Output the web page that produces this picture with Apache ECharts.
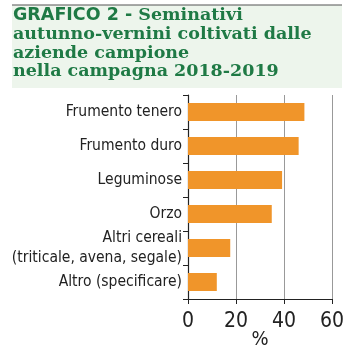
<!DOCTYPE html>
<html>
<head>
<meta charset="utf-8">
<script src="https://cdn.jsdelivr.net/npm/echarts@6/dist/echarts.min.js"></script>
<style>
html,body{margin:0;padding:0;background:#fff;}
#chart{width:345px;height:350px;}
</style>
</head>
<body>
<div id="chart"></div>
<script>
const categories = ['Frumento tenero', 'Frumento duro', 'Leguminose', 'Orzo', 'Altri cereali\n(triticale, avena, segale)', 'Altro (specificare)'];
const values = [48.5, 46.1, 39.2, 34.9, 17.6, 12.0];
const xTicks = [0, 20, 40, 60];

const labelFont = '"DejaVu Sans Condensed", "Liberation Sans Narrow", Roboto, sans-serif';
const chart = echarts.init(document.getElementById('chart'), null, {renderer: 'canvas'});
chart.setOption({
  animation: false,
  backgroundColor: '#ffffff',
  graphic: [
    {type: 'rect', left: 12, top: 5, shape: {width: 330, height: 83}, style: {fill: '#edf5ec'}, z: -10},
    {type: 'line', shape: {x1: 12, y1: 5, x2: 342, y2: 5}, style: {stroke: '#555', lineWidth: 1.2}}
  ],
  title: {
    left: 13,
    top: 6,
    padding: 0,
    text: '{a|GRAFICO 2 - }{b|Seminativi}\n{b|autunno-vernini coltivati dalle}\n{b|aziende campione}\n{b|nella campagna 2018-2019}',
    textStyle: {
      color: '#1f7a45',
      fontSize: 17.5,
      lineHeight: 18.8,
      rich: {
        a: {fontFamily: 'DejaVu Sans', fontWeight: 'bold', fontSize: 17.5, color: '#1f7a45', lineHeight: 18.8},
        b: {fontFamily: 'DejaVu Serif', fontWeight: 'bold', fontSize: 17.5, color: '#1f7a45', lineHeight: 18.8}
      }
    }
  },
  grid: {left: 188, right: 13, top: 95, bottom: 51, containLabel: false, outerBoundsMode: 'none'},
  xAxis: {
    type: 'value',
    min: xTicks[0],
    max: xTicks[xTicks.length - 1],
    interval: 20,
    name: '%',
    nameLocation: 'middle',
    nameGap: 31,
    nameMoveOverlap: false,
    nameTextStyle: {fontSize: 20, color: '#222', fontFamily: labelFont},
    axisLine: {show: true, lineStyle: {color: '#222', width: 1.2}},
    axisTick: {show: true, length: 5, lineStyle: {color: '#222'}},
    axisLabel: {fontSize: 21, color: '#222', margin: 12, fontFamily: labelFont},
    splitLine: {show: true, lineStyle: {color: '#999', width: 1}}
  },
  yAxis: {
    type: 'category',
    inverse: true,
    data: categories,
    axisLine: {show: true, lineStyle: {color: '#222', width: 1.2}},
    axisTick: {show: true, length: 5, lineStyle: {color: '#222'}},
    axisLabel: {fontSize: 15.5, color: '#222', margin: 6, lineHeight: 20, fontFamily: labelFont}
  },
  series: [{
    type: 'bar',
    data: values,
    barWidth: 18,
    itemStyle: {color: '#f0952a'}
  }]
});
</script>
</body>
</html>
